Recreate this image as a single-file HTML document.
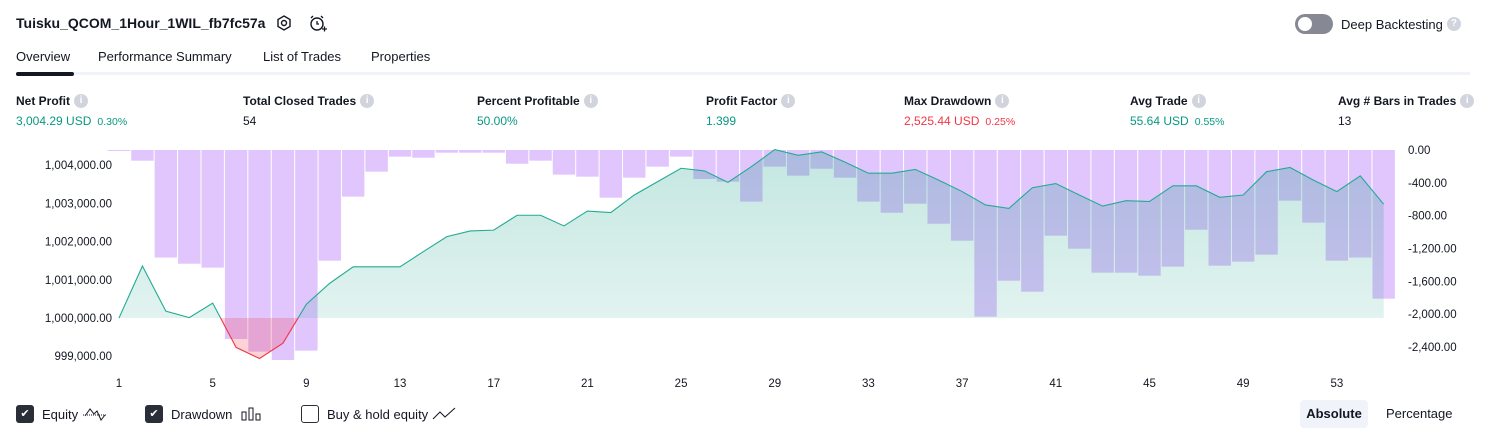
<!DOCTYPE html>
<html><head><meta charset="utf-8">
<style>
body{margin:0;width:1486px;height:438px;background:#fff;font-family:"Liberation Sans",sans-serif;color:#131722;overflow:hidden;position:relative}
.abs{position:absolute;white-space:nowrap}
.lbl{font-size:12px;font-weight:bold;color:#131722;display:flex;align-items:center;height:16px}
.val{font-size:12px}
.g{color:#089981}.r{color:#f23645}
.small{font-size:10.5px;margin-left:6px}
.info{display:inline-block;width:14px;height:14px;border-radius:7px;background:#d1d4dc;color:#fff;font-size:10px;text-align:center;line-height:14px;margin-left:4px;font-weight:bold}
.tab{font-size:13px;top:49px}
.leg{display:flex;align-items:center;font-size:13px;height:20px}
.cb{display:inline-block;width:18px;height:18px;border-radius:3px;margin-right:8px;box-sizing:border-box}
</style></head><body>
<div class="abs" style="left:16px;top:15px;font-size:14px;font-weight:bold">Tuisku_QCOM_1Hour_1WIL_fb7fc57a</div>
<svg class="abs" style="left:275px;top:14px" width="18" height="18"><polygon points="9,2 15,5.5 15,12.5 9,16 3,12.5 3,5.5" fill="none" stroke="#131722" stroke-width="1.4"/><circle cx="9" cy="9" r="2.5" fill="none" stroke="#131722" stroke-width="1.4"/></svg>
<svg class="abs" style="left:308px;top:14px" width="20" height="18"><circle cx="9" cy="10" r="6" fill="none" stroke="#131722" stroke-width="1.4"/><path d="M9 7v3h2M3 4l2-2M15 4l-2-2M14 15h5M16.5 12.5v5" fill="none" stroke="#131722" stroke-width="1.3"/></svg>
<div class="abs" style="left:1295px;top:14px;width:38px;height:20px;border-radius:10px;background:#868993"><div style="position:absolute;left:3px;top:3px;width:14px;height:14px;border-radius:7px;background:#fff"></div></div>
<div class="abs" style="left:1341px;top:16px;font-size:13px;display:flex;align-items:center;height:16px">Deep Backtesting <span class="info" style="font-size:10px">?</span></div>
<div class="abs tab" style="left:16px">Overview</div>
<div class="abs tab" style="left:98px">Performance Summary</div>
<div class="abs tab" style="left:263px">List of Trades</div>
<div class="abs tab" style="left:371px">Properties</div>
<div class="abs" style="left:16px;top:72px;width:1454px;height:3px;background:#f0f3fa"></div>
<div class="abs" style="left:16px;top:72px;width:58px;height:4px;border-radius:2px;background:#131722"></div>

<div class="abs" style="left:16px;top:93px"><div class="lbl">Net Profit<span class="info">i</span></div><div class="val g" style="margin-top:5px">3,004.29 USD<span class="small">0.30%</span></div></div>
<div class="abs" style="left:243px;top:93px"><div class="lbl">Total Closed Trades<span class="info">i</span></div><div class="val" style="margin-top:5px">54</div></div>
<div class="abs" style="left:477px;top:93px"><div class="lbl">Percent Profitable<span class="info">i</span></div><div class="val g" style="margin-top:5px">50.00%</div></div>
<div class="abs" style="left:706px;top:93px"><div class="lbl">Profit Factor<span class="info">i</span></div><div class="val g" style="margin-top:5px">1.399</div></div>
<div class="abs" style="left:904px;top:93px"><div class="lbl">Max Drawdown<span class="info">i</span></div><div class="val r" style="margin-top:5px">2,525.44 USD<span class="small">0.25%</span></div></div>
<div class="abs" style="left:1130px;top:93px"><div class="lbl">Avg Trade<span class="info">i</span></div><div class="val g" style="margin-top:5px">55.64 USD<span class="small">0.55%</span></div></div>
<div class="abs" style="left:1338px;top:93px"><div class="lbl">Avg # Bars in Trades<span class="info">i</span></div><div class="val" style="margin-top:5px">13</div></div>

<svg id="chart" class="abs" style="left:0;top:0" width="1486" height="438"></svg>

<div class="abs leg" style="left:16px;top:404px"><span class="cb" style="background:#2a2e39;color:#fff;font-size:11px;text-align:center;line-height:18px">✔</span>Equity&nbsp;<svg width="26" height="14"><path d="M1 8h24" stroke="#131722" stroke-dasharray="1 1"/><path d="M3 9l5-7 4 5 3-3 4 9 4-5" fill="none" stroke="#131722"/></svg></div>
<div class="abs leg" style="left:145px;top:404px"><span class="cb" style="background:#2a2e39;color:#fff;font-size:11px;text-align:center;line-height:18px">✔</span>Drawdown&nbsp;&nbsp;<svg width="22" height="14"><rect x="2" y="5" width="4" height="8" fill="none" stroke="#131722"/><rect x="9" y="1" width="4" height="12" fill="none" stroke="#131722"/><rect x="16" y="7" width="4" height="6" fill="none" stroke="#131722"/></svg></div>
<div class="abs leg" style="left:301px;top:404px"><span class="cb" style="border:1.5px solid #2a2e39"></span>Buy &amp; hold equity&nbsp;<svg width="24" height="14"><path d="M1 12l7-7 5 5 10-9" fill="none" stroke="#131722"/></svg></div>
<div class="abs" style="left:1300px;top:400px;width:68px;height:28px;border-radius:4px;background:#f0f3fa;font-size:13px;font-weight:bold;text-align:center;line-height:28px">Absolute</div>
<div class="abs" style="left:1386px;top:406px;font-size:13px">Percentage</div>

<script>
const trades=[];for(let i=1;i<=55;i++)trades.push(i);
const equity=[0,1360,180,10,390,-770,-1060,-660,360,910,1340,1340,1340,1740,2130,2280,2300,2690,2690,2410,2800,2760,3220,3570,3920,3850,3550,3960,4410,4260,4350,4080,3790,3790,3890,3610,3310,2960,2870,3410,3520,3220,2930,3070,3050,3460,3460,3160,3220,3830,3940,3610,3310,3720,2980];
const drawdown=[-8,-130,-1310,-1385,-1433,-2302,-2456,-2558,-2444,-1348,-568,-264,-81,-94,-33,-33,-33,-167,-130,-300,-325,-581,-337,-203,-81,-353,-386,-629,-203,-313,-228,-337,-629,-764,-654,-898,-1105,-2030,-1592,-1726,-1044,-1202,-1494,-1494,-1531,-1421,-971,-1409,-1360,-1275,-617,-885,-1348,-1310,-1811];
const leftTicks=[4000,3000,2000,1000,0,-1000];
const leftTickLabels=["1,004,000.00","1,003,000.00","1,002,000.00","1,001,000.00","1,000,000.00","999,000.00"];
const rightTicks=[0,-400,-800,-1200,-1600,-2000,-2400];
const rightTickLabels=["0.00","-400.00","-800.00","-1,200.00","-1,600.00","-2,000.00","-2,400.00"];
const xTicks=[1,5,9,13,17,21,25,29,33,37,41,45,49,53];

const NS="http://www.w3.org/2000/svg";
const svg=document.getElementById('chart');
const x=t=>119+(t-1)*23.42;
const yE=v=>318-v*0.0382;
const yD=v=>150-v*0.0821;
const base=yE(0);
function mk(tag,attrs,parent){const e=document.createElementNS(NS,tag);for(const k in attrs)e.setAttribute(k,attrs[k]);(parent||svg).appendChild(e);return e;}

const defs=mk('defs',{});
const gr=mk('linearGradient',{id:'gfill',x1:0,y1:0,x2:0,y2:1},defs);
mk('stop',{offset:'0','stop-color':'#089981','stop-opacity':'0.24'},gr);
mk('stop',{offset:'1','stop-color':'#089981','stop-opacity':'0.09'},gr);
const c1=mk('clipPath',{id:'above'},defs);mk('rect',{x:0,y:0,width:1486,height:base},c1);
const c2=mk('clipPath',{id:'below'},defs);mk('rect',{x:0,y:base,width:1486,height:200},c2);

drawdown.forEach((d,i)=>{
  const r=mk('rect',{x:x(trades[i])-11.2,y:150,width:22.4,height:Math.max(1,yD(d)-150),fill:'#e1c5fd'});
  
  
});

let line='';equity.forEach((v,i)=>{line+=(i?'L':'M')+x(trades[i])+' '+yE(v);});
const area=line+'L'+x(trades[trades.length-1])+' '+base+'L'+x(trades[0])+' '+base+'Z';
const a1=mk('path',{d:area,fill:'url(#gfill)','clip-path':'url(#above)'});


const a2=mk('path',{d:area,fill:'rgba(242,54,69,0.22)','clip-path':'url(#below)'});


const l1=mk('path',{d:line,fill:'none',stroke:'#22ab94','stroke-width':1.1,'clip-path':'url(#above)'});


const l2=mk('path',{d:line,fill:'none',stroke:'#f23645','stroke-width':1.1,'clip-path':'url(#below)'});



leftTicks.forEach((v,i)=>{const t=mk('text',{x:112,y:yE(v)+4,'text-anchor':'end','font-size':'11.5',fill:'#131722'});t.textContent=leftTickLabels[i];

});
rightTicks.forEach((v,i)=>{const t=mk('text',{x:1408,y:yD(v)+4,'font-size':'11.5',fill:'#131722'});t.textContent=rightTickLabels[i];

});
xTicks.forEach(v=>{const t=mk('text',{x:x(v),y:387,'text-anchor':'middle','font-size':'11.5',fill:'#131722'});t.textContent=v;

});
</script>
</body></html>
